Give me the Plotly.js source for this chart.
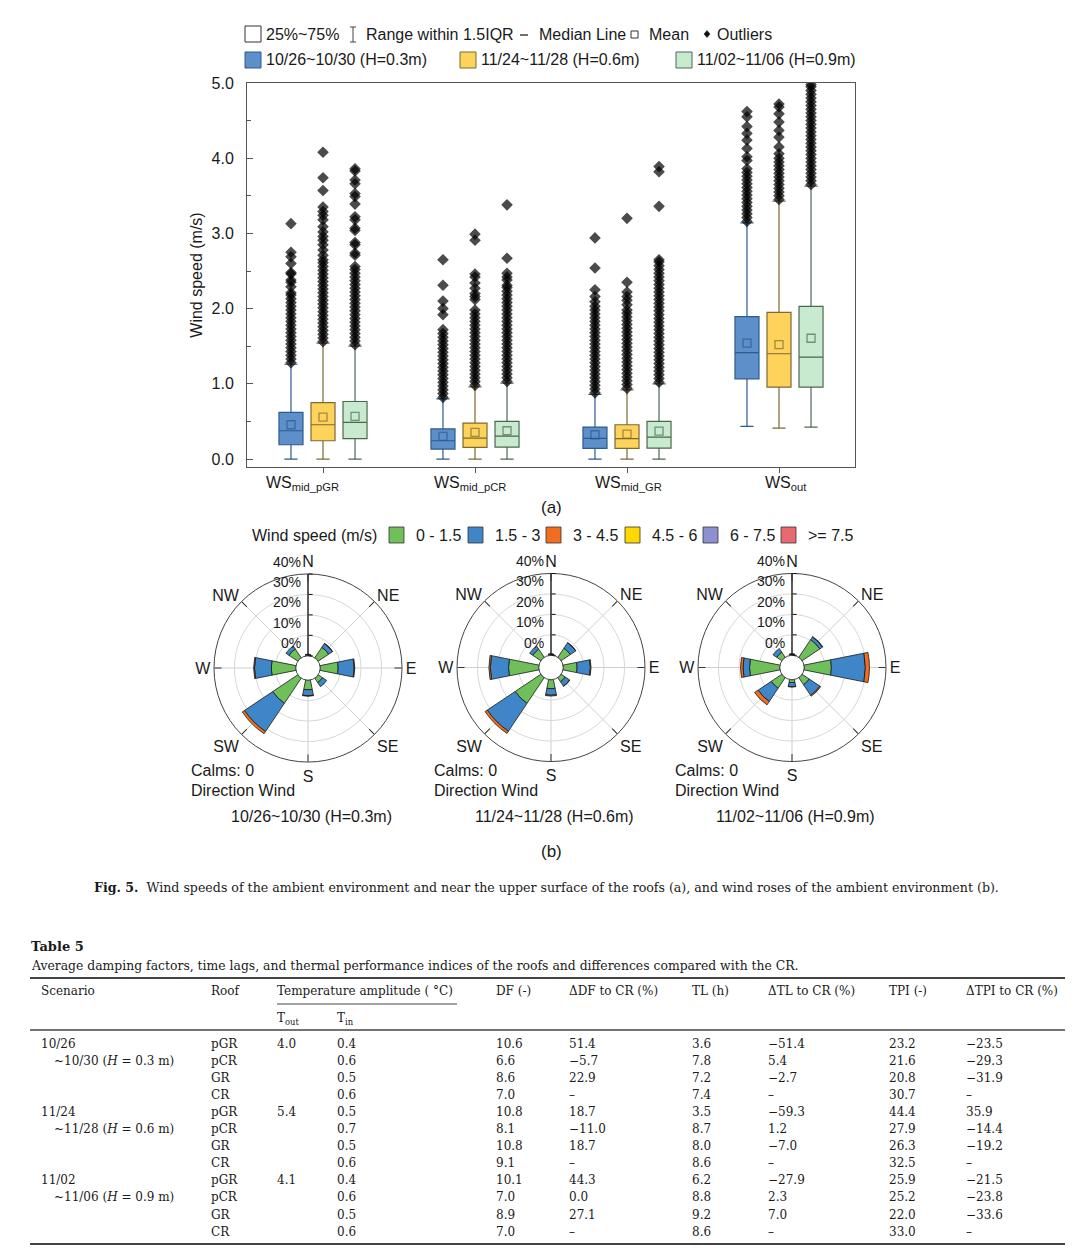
<!DOCTYPE html>
<html><head><meta charset="utf-8">
<script src="https://cdn.plot.ly/plotly-3.0.1.min.js"></script>
<style>html,body{margin:0;padding:0;background:#fff}#chart{width:1080px;height:1256px}</style>
</head><body><div id="chart"></div>
<script>
// ---------------- DATA: box plot (a) ----------------
const categories = ['WS<sub>mid_pGR</sub>','WS<sub>mid_pCR</sub>','WS<sub>mid_GR</sub>','WS<sub>out</sub>'];
const seriesNames = ['10/26~10/30 (H=0.3m)','11/24~11/28 (H=0.6m)','11/02~11/06 (H=0.9m)'];

const q1Blue     = [0.19, 0.133, 0.142, 1.066];
const medianBlue = [0.376, 0.243, 0.274, 1.416];
const q3Blue     = [0.62, 0.40, 0.425, 1.894];
const lowBlue    = [0, 0, 0, 0.434];
const highBlue   = [1.26, 0.80, 0.86, 3.14];
const meanBlue   = [0.456, 0.30, 0.323, 1.54];

const q1Yellow     = [0.243, 0.155, 0.142, 0.956];
const medianYellow = [0.456, 0.279, 0.27, 1.40];
const q3Yellow     = [0.75, 0.478, 0.456, 1.95];
const lowYellow    = [0, 0, 0, 0.41];
const highYellow   = [1.54, 0.96, 0.92, 3.43];
const meanYellow   = [0.557, 0.354, 0.33, 1.52];

const q1Green     = [0.27, 0.159, 0.146, 0.956];
const medianGreen = [0.487, 0.305, 0.292, 1.354];
const q3Green     = [0.765, 0.50, 0.50, 2.03];
const lowGreen    = [0, 0, 0, 0.425];
const highGreen   = [1.50, 1.01, 1.0, 3.63];
const meanGreen   = [0.566, 0.376, 0.372, 1.606];

// outliers (per category)
const outBlue = [
  [1.28,1.33,1.38,1.43,1.48,1.53,1.58,1.63,1.68,1.73,1.78,1.83,1.88,1.93,1.98,2.03,2.08,2.13,2.18,2.21,2.29,2.35,2.38,2.46,2.48,2.60,2.69,2.75,3.13],
  [0.82,0.87,0.92,0.97,1.02,1.07,1.12,1.17,1.22,1.27,1.32,1.37,1.42,1.47,1.52,1.57,1.62,1.67,1.72,1.92,2.00,2.10,2.31,2.65],
  [0.88,0.93,0.98,1.03,1.08,1.13,1.18,1.23,1.28,1.33,1.38,1.43,1.48,1.53,1.58,1.63,1.68,1.73,1.78,1.83,1.88,1.93,1.98,2.03,2.09,2.16,2.25,2.54,2.94],
  [3.16,3.21,3.26,3.31,3.36,3.41,3.46,3.51,3.56,3.61,3.66,3.71,3.76,3.81,3.86,3.97,4.02,4.13,4.24,4.33,4.42,4.55,4.62]
];
const outYellow = [
  [1.56,1.61,1.66,1.71,1.76,1.81,1.86,1.91,1.96,2.01,2.06,2.11,2.16,2.21,2.26,2.31,2.36,2.41,2.46,2.51,2.56,2.61,2.65,2.71,2.78,2.85,2.91,2.96,3.02,3.09,3.18,3.24,3.29,3.35,3.57,3.74,4.08],
  [0.98,1.03,1.08,1.13,1.18,1.23,1.28,1.33,1.38,1.43,1.48,1.53,1.58,1.63,1.68,1.73,1.78,1.83,1.88,1.93,1.98,2.12,2.16,2.20,2.27,2.34,2.42,2.46,2.91,2.99],
  [0.94,0.99,1.04,1.09,1.14,1.19,1.24,1.29,1.34,1.39,1.44,1.49,1.54,1.59,1.64,1.69,1.74,1.79,1.84,1.89,1.94,1.98,2.05,2.11,2.16,2.22,2.35,3.20],
  [3.45,3.50,3.55,3.60,3.65,3.70,3.75,3.80,3.85,3.90,3.95,4.00,4.06,4.15,4.28,4.37,4.48,4.59,4.68,4.72]
];
const outGreen = [
  [1.52,1.57,1.62,1.67,1.72,1.77,1.82,1.87,1.92,1.97,2.02,2.07,2.12,2.17,2.22,2.27,2.32,2.37,2.42,2.47,2.52,2.56,2.71,2.74,2.85,2.88,3.04,3.07,3.18,3.22,3.39,3.49,3.53,3.66,3.71,3.83,3.86],
  [1.03,1.08,1.13,1.18,1.23,1.28,1.33,1.38,1.43,1.48,1.53,1.58,1.63,1.68,1.73,1.78,1.83,1.88,1.93,1.98,2.03,2.08,2.13,2.18,2.23,2.28,2.31,2.38,2.42,2.47,2.67,3.38],
  [1.02,1.07,1.12,1.17,1.22,1.27,1.32,1.37,1.42,1.47,1.52,1.57,1.62,1.67,1.72,1.77,1.82,1.87,1.92,1.97,2.02,2.07,2.12,2.17,2.22,2.27,2.32,2.37,2.42,2.47,2.52,2.57,2.62,2.65,3.36,3.82,3.89],
  [3.65,3.70,3.75,3.80,3.85,3.90,3.95,4.00,4.05,4.10,4.15,4.20,4.25,4.30,4.35,4.40,4.45,4.50,4.55,4.60,4.65,4.70,4.75,4.80,4.85,4.90,4.95,4.98]
];
const yTickVals = [0,1,2,3,4,5];
const yTickText = ['0.0','1.0','2.0','3.0','4.0','5.0'];

// ---------------- DATA: wind roses (b) ----------------
const directions = ['N','NE','E','SE','S','SW','W','NW'];
const speedClasses = ['0 - 1.5','1.5 - 3','3 - 4.5','4.5 - 6','6 - 7.5','>= 7.5'];
const roseTitles = ['10/26~10/30 (H=0.3m)','11/24~11/28 (H=0.6m)','11/02~11/06 (H=0.9m)'];
const rose1Green  = [0.5, 6.2, 8.8, 2.6, 4.7, 14.8, 12.0, 5.2];
const rose1Blue   = [0.3, 2.2, 7.8, 2.4, 2.9, 16.6, 8.2, 1.8];
const rose1Orange = [0, 0.2, 0.3, 0, 0.2, 1.3, 0.4, 0];
const rose2Green  = [0.5, 5.4, 6.8, 2.4, 4.4, 15.1, 14.8, 4.8];
const rose2Blue   = [0.3, 3.2, 6.5, 2.6, 3.2, 16.4, 8.9, 1.8];
const rose2Orange = [0, 0.1, 0.3, 0.1, 0.4, 1.3, 0.7, 0];
const rose3Green  = [0.5, 10.4, 13.3, 4.2, 1.4, 6.2, 14.8, 3.0];
const rose3Blue   = [0.3, 1.6, 16.6, 6.2, 2.0, 7.8, 3.2, 2.2];
const rose3Orange = [0, 0.2, 2.0, 0.5, 0.2, 2.0, 1.2, 0];
const radialTickVals = [0,10,20,30,40];
const radialTickText = ['0%','10%','20%','30%','40%'];

// ---------------- DATA: Table 5 ----------------
const scenarioStart = ['10/26','11/24','11/02'];
const scenarioEnd = ['~10/30 (<i>H</i> = 0.3 m)','~11/28 (<i>H</i> = 0.6 m)','~11/06 (<i>H</i> = 0.9 m)'];
const roofs = ['pGR','pCR','GR','CR','pGR','pCR','GR','CR','pGR','pCR','GR','CR'];
const tOut = [4.0,null,null,null,5.4,null,null,null,4.1,null,null,null];
const tIn  = [0.4,0.6,0.5,0.6,0.5,0.7,0.5,0.6,0.4,0.6,0.5,0.6];
const dfVals  = [10.6,6.6,8.6,7.0,10.8,8.1,10.8,9.1,10.1,7.0,8.9,7.0];
const dDF     = [51.4,-5.7,22.9,null,18.7,-11.0,18.7,null,44.3,0.0,27.1,null];
const tlVals  = [3.6,7.8,7.2,7.4,3.5,8.7,8.0,8.6,6.2,8.8,9.2,8.6];
const dTL     = [-51.4,5.4,-2.7,null,-59.3,1.2,-7.0,null,-27.9,2.3,7.0,null];
const tpiVals = [23.2,21.6,20.8,30.7,44.4,27.9,26.3,32.5,25.9,25.2,22.0,33.0];
const dTPI    = [-23.5,-29.3,-31.9,null,35.9,-14.4,-19.2,null,-21.5,-23.8,-33.6,null];
const tableHeaders = ['Scenario','Roof','Temperature amplitude ( °C)','DF (-)','ΔDF to CR (%)','TL (h)','ΔTL to CR (%)','TPI (-)','ΔTPI to CR (%)'];

// ---------------- STYLE / LAYOUT ----------------
const W = 1080, H = 1256;
const px = x => x / W, py = y => 1 - y / H;
const SANS = 'Liberation Sans, Arial, sans-serif';
const SERIF = 'DejaVu Serif, serif';
const TXT = '#1a1a1a';
const boxFill = ['#5d8fca', '#fdd35b', '#c8ebcf'];
const boxLine = ['#2e5a8c', '#7d6a33', '#4d6652'];
const roseColors = ['#6fbf5b', '#3f86c8', '#f26d1f', '#ffd800', '#8d8fd0', '#e86a6f'];

const traces = [];
const stats = [
  [q1Blue, medianBlue, q3Blue, lowBlue, highBlue, meanBlue, outBlue],
  [q1Yellow, medianYellow, q3Yellow, lowYellow, highYellow, meanYellow, outYellow],
  [q1Green, medianGreen, q3Green, lowGreen, highGreen, meanGreen, outGreen]
];
stats.forEach((s, i) => {
  traces.push({
    type: 'box', name: seriesNames[i], x: categories, offsetgroup: 'g' + i,
    q1: s[0], median: s[1], q3: s[2], lowerfence: s[3], upperfence: s[4],
    fillcolor: boxFill[i], line: {color: boxLine[i], width: 1.2},
    whiskerwidth: 0.55, boxpoints: false, showlegend: false, hoverinfo: 'skip',
    xaxis: 'x', yaxis: 'y'
  });
});
stats.forEach((s, i) => {
  const x = [], y = [], sym = [], col = [], size = [];
  s[6].forEach((arr, c) => arr.forEach(v => { x.push(categories[c]); y.push(v); sym.push('diamond'); col.push('#000'); size.push(7.5); }));
  s[5].forEach((m, c) => { x.push(categories[c]); y.push(m); sym.push('square-open'); col.push(boxLine[i]); size.push(8); });
  traces.push({
    type: 'scatter', mode: 'markers', x, y, offsetgroup: 'g' + i,
    marker: {symbol: sym, color: col, size: size, line: {color: col, width: 1.3}},
    showlegend: false, hoverinfo: 'skip', xaxis: 'x', yaxis: 'y'
  });
});

const roseData = [
  [rose1Green, rose1Blue, rose1Orange],
  [rose2Green, rose2Blue, rose2Orange],
  [rose3Green, rose3Blue, rose3Orange]
];
const polarNames = ['polar', 'polar2', 'polar3'];
roseData.forEach((rd, p) => {
  rd.forEach((vals, k) => {
    traces.push({
      type: 'barpolar', subplot: polarNames[p], r: vals, theta: directions, width: 0.5,
      name: speedClasses[k], marker: {color: roseColors[k], line: {color: '#1a1a1a', width: 0.8}},
      showlegend: false, hoverinfo: 'skip'
    });
  });
});

const R = 94, HOLE = 0.13, RMAX = 40;
const roseCenters = [[308, 668], [551, 667.5], [792, 667.5]];
function polarLayout(cx, cy) {
  return {
    domain: {x: [px(cx - R), px(cx + R)], y: [py(cy + R), py(cy - R)]},
    hole: HOLE, barmode: 'stack', bgcolor: 'rgba(0,0,0,0)',
    angularaxis: {
      type: 'category', categoryorder: 'array', categoryarray: directions,
      direction: 'clockwise', rotation: 90, ticks: 'inside', ticklen: 7, tickcolor: '#333',
      linecolor: '#444', linewidth: 1, showgrid: true, gridcolor: '#cfcfcf', gridwidth: 1,
      tickfont: {family: SANS, size: 16, color: TXT}
    },
    radialaxis: {
      range: [0, RMAX], tickvals: radialTickVals, showticklabels: false, angle: 90,
      showline: true, linecolor: '#111', linewidth: 1.3,
      ticks: 'outside', ticklen: 4, tickcolor: '#111', showgrid: true, gridcolor: '#d8d8d8'
    }
  };
}

const ann = [];
const shapes = [];
function text(x, y, t, opt = {}) {
  ann.push(Object.assign({xref: 'paper', yref: 'paper', x: px(x), y: py(y), text: t, showarrow: false,
    xanchor: 'left', yanchor: 'middle', font: {family: SANS, size: 16, color: TXT}}, opt));
}
function rect(x0, y0, x1, y1, fill, line, lw = 1) {
  shapes.push({type: 'rect', xref: 'paper', yref: 'paper', x0: px(x0), x1: px(x1), y0: py(y1), y1: py(y0),
    fillcolor: fill, line: {color: line, width: lw}});
}
function hline(x0, x1, y, w, c = '#333') {
  shapes.push({type: 'line', xref: 'paper', yref: 'paper', x0: px(x0), x1: px(x1), y0: py(y), y1: py(y), line: {color: c, width: w}});
}
function vline(x, y0, y1, w, c = '#333') {
  shapes.push({type: 'line', xref: 'paper', yref: 'paper', x0: px(x), x1: px(x), y0: py(y0), y1: py(y1), line: {color: c, width: w}});
}

// top legend line 1
rect(245, 26, 261, 42, '#fff', '#333');
text(264, 34, '25%~75%');
vline(353, 27, 42, 1, '#444'); hline(350, 356, 27, 1, '#444'); hline(350, 356, 42, 1, '#444');
text(364, 34, 'Range within 1.5IQR');
hline(520, 528, 35, 1.3, '#222');
text(537, 34, 'Median Line');
rect(631, 31, 638, 38, 'rgba(0,0,0,0)', '#333', 1);
text(647, 34, 'Mean');
shapes.push({type: 'path', xref: 'paper', yref: 'paper',
  path: `M ${px(707)} ${py(30.5)} L ${px(710)} ${py(34)} L ${px(707)} ${py(37.5)} L ${px(704)} ${py(34)} Z`,
  fillcolor: '#111', line: {color: '#111', width: 0.5}});
text(715, 34, 'Outliers');
// top legend line 2
const leg2X = [245, 460, 676];
leg2X.forEach((x, i) => { rect(x, 52, x + 16, 68, boxFill[i], boxLine[i]); text(x + 19, 60, seriesNames[i]); });

// category labels under the box plot
const catShift = [-21, -5, 1, 7];
categories.forEach((c, i) => {
  ann.push({xref: 'x', yref: 'paper', x: c, y: py(483), xshift: catShift[i], text: c, showarrow: false,
    xanchor: 'center', yanchor: 'middle', font: {family: SANS, size: 16, color: TXT}});
});

text(551, 507, '(a)', {xanchor: 'center', font: {family: SANS, size: 17, color: TXT}});

// rose legend
text(250, 535, 'Wind speed (m/s)');
const sqX = [389, 468, 546, 625, 703, 781];
sqX.forEach((x, i) => { rect(x, 527, x + 15, 543, roseColors[i], '#333', 0.8); text(x + 25, 535, speedClasses[i]); });

roseCenters.forEach((c, i) => {
  // radial tick labels, drawn just above their ticks as in the original
  radialTickVals.forEach((v, k) => {
    const r = R * HOLE + (R - R * HOLE) * v / RMAX;
    text(c[0] - 5, c[1] - r - 12.5, radialTickText[k], {xanchor: 'right', font: {family: SANS, size: 14, color: TXT}});
  });
  text(c[0] - 119, 771, 'Calms: 0');
  text(c[0] - 119, 790, 'Direction Wind');
  text(c[0] + 3, 816, roseTitles[i], {xanchor: 'center'});
});
text(551, 851, '(b)', {xanchor: 'center', font: {family: SANS, size: 17, color: TXT}});

// caption
text(92, 888, '<b>Fig. 5.</b>  Wind speeds of the ambient environment and near the upper surface of the roofs (a), and wind roses of the ambient environment (b).',
  {font: {family: SERIF, size: 12.6, color: TXT}});

// table
const tf = {family: SERIF, size: 12, color: TXT};
text(29, 946, '<b>Table 5</b>', {font: {family: SERIF, size: 13, color: TXT}});
text(29, 965, 'Average damping factors, time lags, and thermal performance indices of the roofs and differences compared with the CR.', {font: {family: SERIF, size: 12.4, color: TXT}});
hline(30, 1065, 978, 1.8, '#444');
const headX = [41, 211, 277, 496, 569, 692, 768, 889, 966];
tableHeaders.forEach((h, i) => text(headX[i] - 2, 991, h, {font: tf}));
hline(277, 457, 1004, 1, '#444');
text(275, 1019, 'T<sub>out</sub>', {font: tf});
text(335, 1019, 'T<sub>in</sub>', {font: tf});
hline(30, 1065, 1030, 1.4, '#444');
hline(30, 1065, 1244, 1.8, '#444');
const fmt = v => v === null ? '–' : (v < 0 ? '−' + Math.abs(v).toFixed(1) : v.toFixed(1));
const rowY = i => 1043.5 + 17.1 * i;
scenarioStart.forEach((s, g) => {
  text(39, rowY(g * 4), s, {font: tf});
  text(52, rowY(g * 4 + 1), scenarioEnd[g], {font: tf});
});
roofs.forEach((r, i) => {
  const y = rowY(i);
  text(209, y, r, {font: tf});
  if (tOut[i] !== null) text(275, y, fmt(tOut[i]), {font: tf});
  text(335, y, fmt(tIn[i]), {font: tf});
  text(494, y, fmt(dfVals[i]), {font: tf});
  text(567, y, fmt(dDF[i]), {font: tf});
  text(690, y, fmt(tlVals[i]), {font: tf});
  text(766, y, fmt(dTL[i]), {font: tf});
  text(887, y, fmt(tpiVals[i]), {font: tf});
  text(964, y, fmt(dTPI[i]), {font: tf});
});

const layout = {
  width: W, height: H, margin: {l: 0, r: 0, t: 0, b: 0},
  paper_bgcolor: '#fff', plot_bgcolor: '#fff', showlegend: false,
  font: {family: SANS, color: TXT},
  boxmode: 'group', boxgap: 0.368, boxgroupgap: 0.25,
  scattermode: 'group', scattergap: 0.368,
  xaxis: {
    domain: [px(247), px(855)], anchor: 'y', type: 'category', categoryorder: 'array', categoryarray: categories,
    range: [-0.5, 3.5], showline: true, mirror: true, linecolor: '#555', linewidth: 1,
    ticks: 'outside', ticklen: 5, tickcolor: '#555', showgrid: false, zeroline: false,
    showticklabels: false, fixedrange: true
  },
  yaxis: {
    domain: [py(467), py(83)], anchor: 'x', range: [-0.106, 5.0],
    tickmode: 'array', tickvals: yTickVals, ticktext: yTickText,
    ticks: 'inside', ticklen: 6, tickcolor: '#555', ticklabelstandoff: 9,
    minor: {ticks: 'inside', ticklen: 4, tickcolor: '#555', dtick: 0.5, tick0: 0, showgrid: false},
    showline: true, mirror: true, linecolor: '#555', linewidth: 1, showgrid: false, zeroline: false,
    tickfont: {family: SANS, size: 16, color: TXT},
    title: {text: 'Wind speed (m/s)', font: {family: SANS, size: 16, color: TXT}, standoff: 4}
  },
  polar: polarLayout(...roseCenters[0]),
  polar2: polarLayout(...roseCenters[1]),
  polar3: polarLayout(...roseCenters[2]),
  annotations: ann, shapes: shapes
};
Plotly.newPlot('chart', traces, layout, {staticPlot: true, displayModeBar: false});
</script></body></html>
